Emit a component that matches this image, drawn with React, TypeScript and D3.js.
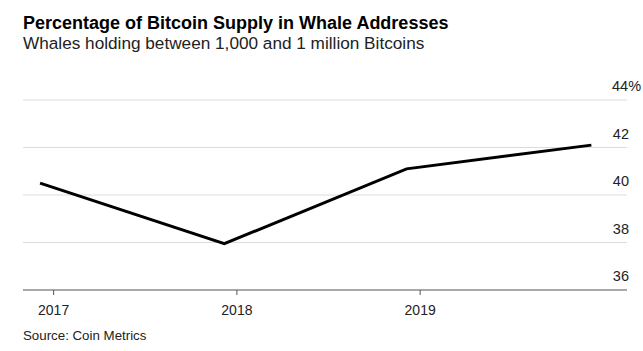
import React, { useEffect, useRef } from "react";
import * as d3 from "d3";

const dates = ["2016-12-06", "2017-12-08", "2018-12-06", "2019-12-09"];
const values = [40.5, 37.95, 41.1, 42.1];
const yTicks = [36, 38, 40, 42, 44];
const xTicks = ["2017-01-01", "2018-01-01", "2019-01-01"];

const W = 643;
const H = 351;
const font = "'Liberation Sans', Arial, sans-serif";

const App = () => {
  const svgRef = useRef<SVGSVGElement>(null);

  useEffect(() => {
    const svg = d3.select(svgRef.current);
    svg.selectAll("*").remove();

    const parse = d3.timeParse("%Y-%m-%d");
    const data = dates.map((d, i) => ({ date: parse(d) as Date, value: values[i] }));

    const x = d3
      .scaleTime()
      .domain([parse("2016-11-02") as Date, parse("2020-02-18") as Date])
      .range([23, 627]);

    const y = d3.scaleLinear().domain([36, 44]).range([290, 100]);

    // title block
    svg
      .append("text")
      .attr("x", 23)
      .attr("y", 28.5)
      .attr("font-family", font)
      .attr("font-size", 18)
      .attr("font-weight", "bold")
      .attr("fill", "#000")
      .text("Percentage of Bitcoin Supply in Whale Addresses");

    svg
      .append("text")
      .attr("x", 23)
      .attr("y", 49)
      .attr("font-family", font)
      .attr("font-size", 17.2)
      .attr("fill", "#222")
      .text("Whales holding between 1,000 and 1 million Bitcoins");

    // gridlines
    svg
      .selectAll(".grid")
      .data(yTicks.filter((t) => t !== 36))
      .enter()
      .append("line")
      .attr("x1", 23)
      .attr("x2", 627)
      .attr("y1", (d) => y(d))
      .attr("y2", (d) => y(d))
      .attr("stroke", "#dcdcdc")
      .attr("stroke-width", 1);

    // y labels
    const yl = svg
      .selectAll(".ylab")
      .data(yTicks)
      .enter()
      .append("text")
      .attr("x", 629)
      .attr("y", (d) => y(d) - 9)
      .attr("text-anchor", "end")
      .attr("font-family", font)
      .attr("font-size", 14.5)
      .attr("fill", "#222")
      .text((d) => d);
    yl.filter((d) => d === 44)
      .append("tspan")
      .text("%");
    yl.filter((d) => d === 44).attr("text-anchor", "start").attr("x", 612);

    // x axis
    const xAxis = svg
      .append("g")
      .attr("transform", `translate(0, ${y(36)})`)
      .call(
        d3
          .axisBottom(x)
          .tickValues(xTicks.map((d) => parse(d) as Date))
          .tickSize(5)
          .tickFormat((d) => d3.timeFormat("%Y")(d as Date))
      );
    xAxis.select(".domain").attr("stroke", "#555").attr("stroke-width", 1.2).attr("d", "M23,0H627");
    xAxis.selectAll(".tick line").attr("stroke", "#555");
    xAxis
      .selectAll(".tick text")
      .attr("font-family", font)
      .attr("font-size", 14)
      .attr("fill", "#222")
      .attr("dy", "0")
      .attr("y", 25);

    // line
    const line = d3
      .line<{ date: Date; value: number }>()
      .x((d) => x(d.date))
      .y((d) => y(d.value));

    svg
      .append("path")
      .datum(data)
      .attr("d", line)
      .attr("fill", "none")
      .attr("stroke", "#000")
      .attr("stroke-width", 3)
      .attr("stroke-linejoin", "miter");

    svg
      .append("text")
      .attr("x", 23)
      .attr("y", 340)
      .attr("font-family", font)
      .attr("font-size", 13.3)
      .attr("fill", "#222")
      .text("Source: Coin Metrics");
  }, []);

  return (
    <svg
      ref={svgRef}
      width={W}
      height={H}
      style={{ position: "absolute", left: 0, top: 0, background: "#fff" }}
    ></svg>
  );
};

export default App;
